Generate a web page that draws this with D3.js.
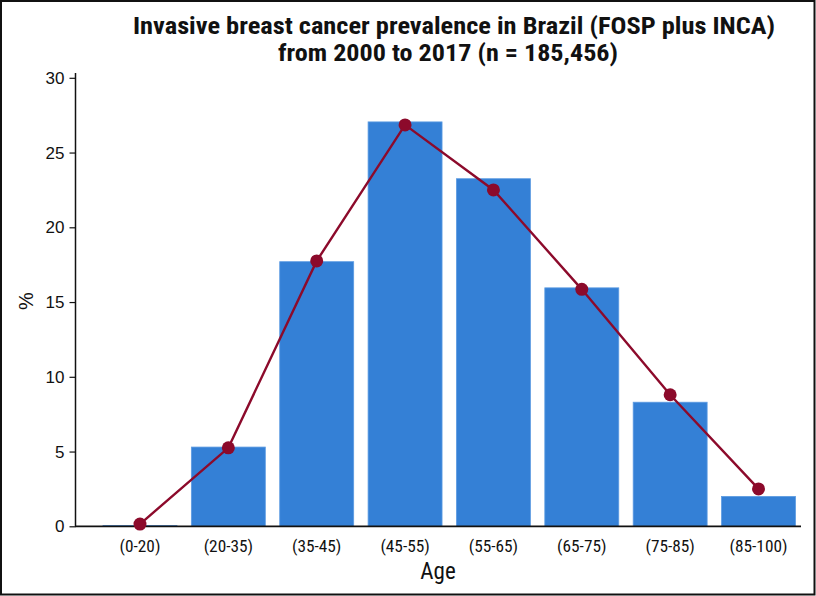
<!DOCTYPE html>
<html><head><meta charset="utf-8">
<script src="https://cdn.jsdelivr.net/npm/d3@7"></script>
<style>
html,body{margin:0;padding:0;background:#fff;}
svg{display:block;}
</style></head>
<body>
<script>
const categories = ["(0-20)","(20-35)","(35-45)","(45-55)","(55-65)","(65-75)","(75-85)","(85-100)"];
const barValues = [0.05, 5.3, 17.7, 27.05, 23.25, 15.95, 8.3, 2.0];
const lineValues = [0.15, 5.25, 17.75, 26.85, 22.5, 15.85, 8.8, 2.5];
const yTicks = [0,5,10,15,20,25,30];
const titleLines = ["Invasive breast cancer prevalence in Brazil (FOSP plus INCA)","from 2000 to 2017 (n = 185,456)"];

const W=816,H=596;
const svg=d3.select("body").append("svg").attr("width",W).attr("height",H);
svg.append("rect").attr("x",1).attr("y",1).attr("width",W-2.5).attr("height",H-2.5)
  .attr("fill","#fff").attr("stroke","#111").attr("stroke-width",2);

const narrow = "'Liberation Sans Narrow','Arial Narrow','Roboto Condensed',sans-serif";
const reg = "'Liberation Sans',Arial,Helvetica,sans-serif";

const x=d3.scaleBand().domain(categories).range([103,795.5]).paddingInner(0.163).paddingOuter(0);
const y=d3.scaleLinear().domain([0,30]).range([526.3,77.8]);

// bars
svg.append("g").selectAll("rect").data(categories).join("rect")
  .attr("x",d=>x(d)).attr("width",x.bandwidth())
  .attr("y",(d,i)=>y(barValues[i])).attr("height",(d,i)=>y(0)-y(barValues[i]))
  .attr("fill","#3480d6").attr("stroke","#5d9be2").attr("stroke-width",0.8);

// y axis
const ya=svg.append("g").attr("transform","translate(75.5,0)")
  .call(d3.axisLeft(y).tickValues(yTicks).tickSize(6).tickPadding(5));
ya.select(".domain").attr("d","M0,73V526.3").attr("stroke","#111").attr("stroke-width",1.5);
ya.selectAll(".tick line").attr("stroke","#111").attr("stroke-width",1.2);
ya.selectAll(".tick text").attr("font-family",reg).attr("font-size",17).attr("fill","#111");

// x axis
const xa=svg.append("g").attr("transform","translate(0,526.3)")
  .call(d3.axisBottom(x).tickSize(0).tickPadding(13));
xa.select(".domain").attr("d","M75,0H801").attr("stroke","#111").attr("stroke-width",1.8);
xa.selectAll(".tick text").attr("font-family",narrow).attr("font-size",17.3).attr("fill","#111");

// line
const line=d3.line().x((d,i)=>x(categories[i])+x.bandwidth()/2).y(d=>y(d));
svg.append("path").datum(lineValues).attr("d",line)
  .attr("fill","none").attr("stroke","#8c0a2b").attr("stroke-width",2.4);
svg.append("g").selectAll("circle").data(lineValues).join("circle")
  .attr("cx",(d,i)=>x(categories[i])+x.bandwidth()/2).attr("cy",d=>y(d))
  .attr("r",6.5).attr("fill","#8c0a2b");

// titles
svg.append("text").attr("x",454).attr("y",34).attr("text-anchor","middle")
  .attr("font-family",narrow).attr("font-weight","bold").attr("font-size",23.5)
  .attr("textLength",642).attr("lengthAdjust","spacingAndGlyphs")
  .attr("fill","#111").text(titleLines[0]);
svg.append("text").attr("x",448).attr("y",61).attr("text-anchor","middle")
  .attr("font-family",narrow).attr("font-weight","bold").attr("font-size",23.5)
  .attr("textLength",340).attr("lengthAdjust","spacingAndGlyphs")
  .attr("fill","#111").text(titleLines[1]);

// axis titles
svg.append("text").attr("x",438).attr("y",579).attr("text-anchor","middle")
  .attr("font-family",narrow).attr("font-size",23).attr("fill","#111").text("Age");
svg.append("text").attr("transform","translate(33,301) rotate(-90)").attr("text-anchor","middle")
  .attr("font-family",reg).attr("font-size",20).attr("fill","#111").text("%");
</script>
</body></html>
